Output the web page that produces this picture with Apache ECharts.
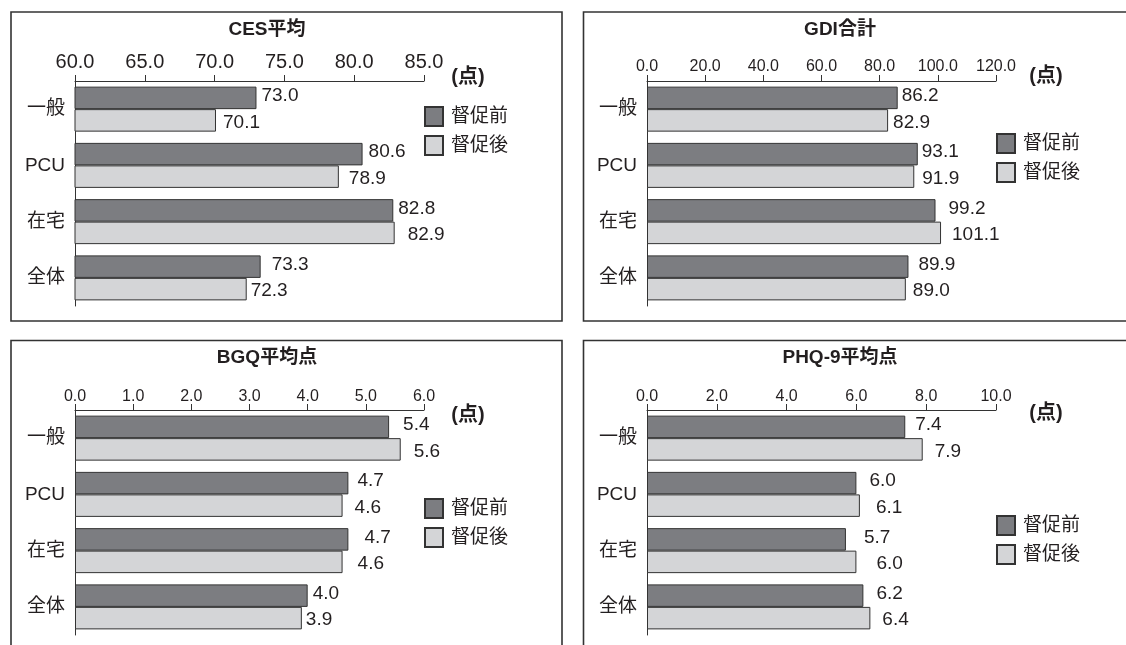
<!DOCTYPE html>
<html>
<head>
<meta charset="utf-8">
<script src="https://cdn.jsdelivr.net/npm/echarts@6/dist/echarts.min.js"></script>
<style>
  html, body { margin: 0; padding: 0; background: #ffffff; }
  #chart { width: 1126px; height: 645px; }
</style>
</head>
<body>
<div id="chart"></div>
<script>
// ---- data ----
const categories = ['一般', 'PCU', '在宅', '全体'];
const seriesNames = ['督促前', '督促後'];
const unitLabel = '(点)';

const cesTitle = 'CES平均';
const cesBefore = [73.0, 80.6, 82.8, 73.3];
const cesAfter = [70.1, 78.9, 82.9, 72.3];
const cesAxis = [60, 85, 5];

const gdiTitle = 'GDI合計';
const gdiBefore = [86.2, 93.1, 99.2, 89.9];
const gdiAfter = [82.9, 91.9, 101.1, 89.0];
const gdiAxis = [0, 120, 20];

const bgqTitle = 'BGQ平均点';
const bgqBefore = [5.4, 4.7, 4.7, 4.0];
const bgqAfter = [5.6, 4.6, 4.6, 3.9];
const bgqAxis = [0, 6, 1];

const phqTitle = 'PHQ-9平均点';
const phqBefore = [7.4, 6.0, 5.7, 6.2];
const phqAfter = [7.9, 6.1, 6.0, 6.4];
const phqAxis = [0, 10, 2];

// ---- styling ----
const FONT = "'Liberation Sans', 'Noto Sans CJK JP', sans-serif";
const INK = '#231f20';
const LINE = '#333333';
const DARK = '#7c7d81';
const LIGHT = '#d4d5d7';

// panel layout: frame, plot area, title, unit note, legend, label spacing
const panels = [
  {
    title: cesTitle, before: cesBefore, after: cesAfter, axis: cesAxis,
    frame: [11, 12, 551, 309], gridLeft: 75, gridTop: 81,
    titlePos: [267, 30], unitPos: [468, 77], legendPos: [424, 106],
    tickFont: 20, tickMargin: 9,
    gapBefore: [5, 6, 5, 11], gapAfter: [7, 10, 13, 4]
  },
  {
    title: gdiTitle, before: gdiBefore, after: gdiAfter, axis: gdiAxis,
    frame: [583.5, 12, 600, 309], gridLeft: 647, gridTop: 81,
    titlePos: [840, 30], unitPos: [1046, 76], legendPos: [996, 133],
    tickFont: 16, tickMargin: 6,
    gapBefore: [4, 4, 13, 10], gapAfter: [5, 8, 11, 7]
  },
  {
    title: bgqTitle, before: bgqBefore, after: bgqAfter, axis: bgqAxis,
    frame: [11, 340.5, 551, 400], gridLeft: 75, gridTop: 410,
    titlePos: [267, 358], unitPos: [468, 415], legendPos: [424, 498],
    tickFont: 16, tickMargin: 5,
    gapBefore: [14, 9, 16, 5], gapAfter: [13, 12, 15, 4]
  },
  {
    title: phqTitle, before: phqBefore, after: phqAfter, axis: phqAxis,
    frame: [583.5, 340.5, 600, 400], gridLeft: 647, gridTop: 410,
    titlePos: [840, 358], unitPos: [1046, 413], legendPos: [996, 515],
    tickFont: 16, tickMargin: 5,
    gapBefore: [10, 13, 18, 13], gapAfter: [12, 16, 20, 12]
  }
];

const grid = [], xAxis = [], yAxis = [], series = [], legend = [], graphic = [];

panels.forEach((p, i) => {
  const [min, max, interval] = p.axis;

  graphic.push({
    type: 'rect', silent: true, z: -1,
    shape: { x: p.frame[0], y: p.frame[1], width: p.frame[2], height: p.frame[3] },
    style: { fill: 'none', stroke: LINE, lineWidth: 1.6 }
  });
  graphic.push({
    type: 'text', silent: true,
    x: p.titlePos[0], y: p.titlePos[1],
    style: { text: p.title, font: 'bold 19px ' + FONT, fill: INK, textAlign: 'center', textVerticalAlign: 'middle' }
  });
  graphic.push({
    type: 'text', silent: true,
    x: p.unitPos[0], y: p.unitPos[1],
    style: { text: unitLabel, font: 'bold 20px ' + FONT, fill: INK, textAlign: 'center', textVerticalAlign: 'middle' }
  });

  grid.push({ left: p.gridLeft, top: p.gridTop, width: 349, height: 225, containLabel: false });

  xAxis.push({
    type: 'value', gridIndex: i, position: 'top',
    min: min, max: max, interval: interval,
    axisLine: { show: true, onZero: false, lineStyle: { color: LINE, width: 1 } },
    axisTick: { show: true, length: 6, lineStyle: { color: LINE, width: 1 } },
    splitLine: { show: false },
    axisLabel: {
      fontSize: p.tickFont, fontFamily: FONT, color: INK, margin: p.tickMargin,
      formatter: v => v.toFixed(1)
    }
  });

  yAxis.push({
    type: 'category', gridIndex: i, data: categories, inverse: true,
    axisLine: { show: true, onZero: false, lineStyle: { color: LINE, width: 1 } },
    axisTick: { show: false },
    axisLabel: { fontSize: 19, fontFamily: FONT, color: INK, margin: 10 }
  });

  [[p.before, DARK, p.gapBefore, -2], [p.after, LIGHT, p.gapAfter, 2]].forEach(([vals, color, gaps, dy], k) => {
    series.push({
      type: 'bar', name: seriesNames[k],
      xAxisIndex: i, yAxisIndex: i,
      startValue: min,
      barGap: '0%', barCategoryGap: '20%',
      itemStyle: { color: color, borderColor: LINE, borderWidth: 1 },
      label: {
        show: true, position: 'right', fontSize: 19, fontFamily: FONT, color: INK,
        offset: [0, dy], formatter: q => Number(q.value).toFixed(1)
      },
      data: vals.map((v, j) => ({ value: v, label: { distance: gaps[j] } }))
    });
  });

  legend.push({
    data: seriesNames, orient: 'vertical',
    left: p.legendPos[0], top: p.legendPos[1],
    itemWidth: 18, itemHeight: 19, itemGap: 8, padding: 0,
    icon: 'rect', selectedMode: false,
    textStyle: { fontSize: 19, fontFamily: FONT, color: INK, padding: [0, 0, 0, 3] }
  });
});

const chart = echarts.init(document.getElementById('chart'), null, { renderer: 'canvas' });
chart.setOption({
  animation: false,
  backgroundColor: '#ffffff',
  grid: grid, xAxis: xAxis, yAxis: yAxis, series: series, legend: legend, graphic: graphic
});
</script>
</body>
</html>
